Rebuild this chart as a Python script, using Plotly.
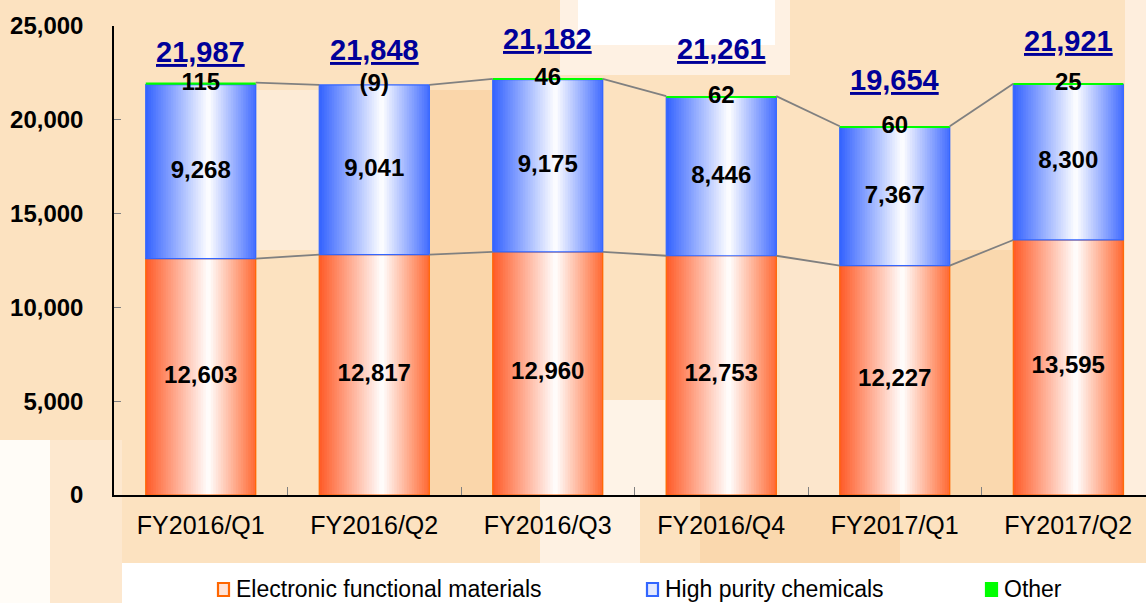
import numpy as np
import plotly.graph_objects as go

# Quarterly net sales by segment (millions of yen)
categories = ["FY2016/Q1", "FY2016/Q2", "FY2016/Q3", "FY2016/Q4", "FY2017/Q1", "FY2017/Q2"]
electronic = [12603, 12817, 12960, 12753, 12227, 13595]
high_purity = [9268, 9041, 9175, 8446, 7367, 8300]
other = [115, -9, 46, 62, 60, 25]
total_labels = ["21,987", "21,848", "21,182", "21,261", "19,654", "21,921"]
series_names = ["Electronic functional materials", "High purity chemicals", "Other"]
y_ticks = [0, 5000, 10000, 15000, 20000, 25000]

# ---- geometry of the figure (pixels) ----
W, H = 1146, 603
PL, PR, PT, PB = 114, 1146, 26, 495          # plot area box
BAR_W = 0.634                                 # bar width in category units
N_STRIPES = 44                                # slices used to shade each bar
FONT = "Liberation Sans, Arial, sans-serif"


def px_x(px):
    return (px - PL) / (PR - PL)


def px_y(py):
    return (PB - py) / (PB - PT)


def ramp(edge_l, edge_r, t, mid=0.57):
    """Horizontal shading: coloured edges fading to white near the middle."""
    white = np.array([255, 255, 255])
    if t <= mid:
        f = t / mid
        c = np.array(edge_l) * (1 - f) + white * f
    else:
        f = (t - mid) / (1 - mid)
        c = white * (1 - f) + np.array(edge_r) * f
    return "rgb(%d,%d,%d)" % tuple(np.round(c).astype(int))


idx = np.arange(len(categories))
e = np.array(electronic, dtype=float)
h = np.array(high_purity, dtype=float)
o = np.array(other, dtype=float)

base_h = e
base_o = np.where(o >= 0, e + h, 0.0)   # negative values stack downward from zero
stack_top = e + h + np.clip(o, 0, None)

fig = go.Figure()

# shaded stacked segments: each slice runs to the right edge of the bar and
# the next slice is painted over it, so no seams appear between slices
step = BAR_W / N_STRIPES
segments = [
    (e, np.zeros_like(e), (255, 90, 38), (255, 104, 50), "#FF6600"),
    (h, base_h, (51, 98, 255), (66, 108, 255), "#3366FF"),
]
for vals, base, cl, cr, line_c in segments:
    for k in range(N_STRIPES):
        t = (k + 0.5) / N_STRIPES
        fig.add_trace(go.Bar(
            x=idx, y=vals, base=base,
            offset=-BAR_W / 2 + k * step,
            width=BAR_W - k * step,
            marker=dict(color=ramp(cl, cr, t), line=dict(width=0)),
            showlegend=False, hoverinfo="skip",
        ))
    # outline of the segment
    fig.add_trace(go.Bar(
        x=idx, y=vals, base=base, offset=-BAR_W / 2, width=BAR_W,
        marker=dict(color="rgba(0,0,0,0)", line=dict(color=line_c, width=1.2)),
        showlegend=False, hoverinfo="skip",
    ))

# "Other" segment on top
fig.add_trace(go.Bar(
    x=idx, y=o, base=base_o, offset=-BAR_W / 2, width=BAR_W,
    marker=dict(color="#00FF00", line=dict(width=0)),
    showlegend=False, hoverinfo="skip",
))


# series lines joining neighbouring bars
def series_line(tops):
    xs, ys = [], []
    for i in range(len(tops) - 1):
        xs += [idx[i] + BAR_W / 2, idx[i + 1] - BAR_W / 2, None]
        ys += [tops[i], tops[i + 1], None]
    return xs, ys


for tops in (e, stack_top):
    xs, ys = series_line(tops)
    fig.add_trace(go.Scatter(
        x=xs, y=ys, mode="lines",
        line=dict(color="#808080", width=1.8),
        showlegend=False, hoverinfo="skip",
    ))


def fmt(v):
    return f"({abs(int(v)):,})" if v < 0 else f"{int(v):,}"


label_font = dict(family=FONT, size=24, color="black", weight="bold")
fig.add_trace(go.Scatter(
    x=idx, y=e / 2, mode="text", text=[fmt(v) for v in e],
    textfont=label_font, showlegend=False, hoverinfo="skip",
))
fig.add_trace(go.Scatter(
    x=idx, y=base_h + h / 2, mode="text", text=[fmt(v) for v in h],
    textfont=label_font, showlegend=False, hoverinfo="skip",
))
fig.add_trace(go.Scatter(
    x=idx, y=e + h + np.clip(o, 0, None) / 2, mode="text", text=[fmt(v) for v in o],
    textfont=label_font, showlegend=False, hoverinfo="skip",
))

# quarterly totals, underlined above each bar
total_label_lift_px = [31, 35, 40, 47, 46, 43]
for i, lab in enumerate(total_labels):
    fig.add_annotation(
        x=idx[i], y=stack_top[i], text=lab, showarrow=False,
        xanchor="center", yanchor="middle", yshift=total_label_lift_px[i],
        font=dict(family=FONT, size=29, color="#000099", weight="bold",
                  lineposition="under"),
    )

# ---- background wash ----
bg = [
    (0, 440, 50, 603, "#FFFCF7"),
    (50, 440, 122, 603, "#FDE8CF"),
    (560, 0, 790, 75, "#FEF1E3"),
    (578, 0, 775, 45, "#FFFFFF"),
    (255, 90, 320, 250, "#FDEBD6"),
    (425, 90, 495, 495, "#FAD6AA"),
    (600, 400, 665, 495, "#FEF3E7"),
    (935, 250, 1012, 495, "#FAD8AE"),
    (780, 260, 840, 495, "#FCE6CC"),
    (1125, 0, 1146, 495, "#FEEEDD"),
    (540, 495, 640, 563, "#FEF1E2"),
    (700, 495, 900, 563, "#FAD8AE"),
]
for x0, y0, x1, y1, c in bg:
    fig.add_shape(type="rect", xref="paper", yref="paper",
                  x0=px_x(x0), x1=px_x(x1), y0=px_y(y1), y1=px_y(y0),
                  fillcolor=c, line=dict(width=0), layer="below")

# ---- legend panel ----
fig.add_shape(type="rect", xref="paper", yref="paper",
              x0=px_x(122), x1=px_x(1150), y0=px_y(610), y1=px_y(563),
              fillcolor="white", line=dict(width=0), layer="below")
legend_items = [
    (217, "#FFE3D6", "#FF6600", series_names[0]),
    (646, "#E3E9FF", "#3366FF", series_names[1]),
    (985, "#00FF00", "#00FF00", series_names[2]),
]
for x_icon, fill_c, edge_c, name in legend_items:
    fig.add_shape(type="rect", xref="paper", yref="paper",
                  x0=px_x(x_icon + 1), x1=px_x(x_icon + 12),
                  y0=px_y(596), y1=px_y(583),
                  fillcolor=fill_c, line=dict(color=edge_c, width=2.2))
    fig.add_annotation(
        x=px_x(x_icon + 17), y=px_y(589), xref="paper", yref="paper",
        text=name, showarrow=False, xanchor="left", yanchor="middle",
        font=dict(family=FONT, size=23, color="black"),
    )

fig.update_layout(
    width=W, height=H, autosize=False,
    margin=dict(l=PL, r=W - PR, t=PT, b=H - PB, pad=0),
    paper_bgcolor="#FCE2C0", plot_bgcolor="rgba(0,0,0,0)",
    barmode="overlay", showlegend=False,
    xaxis=dict(
        range=[-0.5, -0.5 + (PR - PL) / 173.5],
        tickmode="array", tickvals=idx, ticktext=categories,
        ticks="", showgrid=False, zeroline=False,
        showline=True, linecolor="black", linewidth=1.5,
        tickfont=dict(family=FONT, size=25, color="black"),
        ticklabelstandoff=7,
        minor=dict(tickvals=list(idx[:-1] + 0.5), ticks="inside", ticklen=8,
                   tickcolor="#808080", tickwidth=1, showgrid=False),
    ),
    yaxis=dict(
        range=[0, 25000], tickmode="array", tickvals=y_ticks,
        tickformat=",", ticks="inside", ticklen=7, tickcolor="#808080",
        showgrid=False, zeroline=False,
        showline=True, linecolor="black", linewidth=1.5,
        tickfont=dict(family=FONT, size=24, color="black", weight="bold"),
        ticklabelstandoff=24,
    ),
)

fig.write_html("out.html")
